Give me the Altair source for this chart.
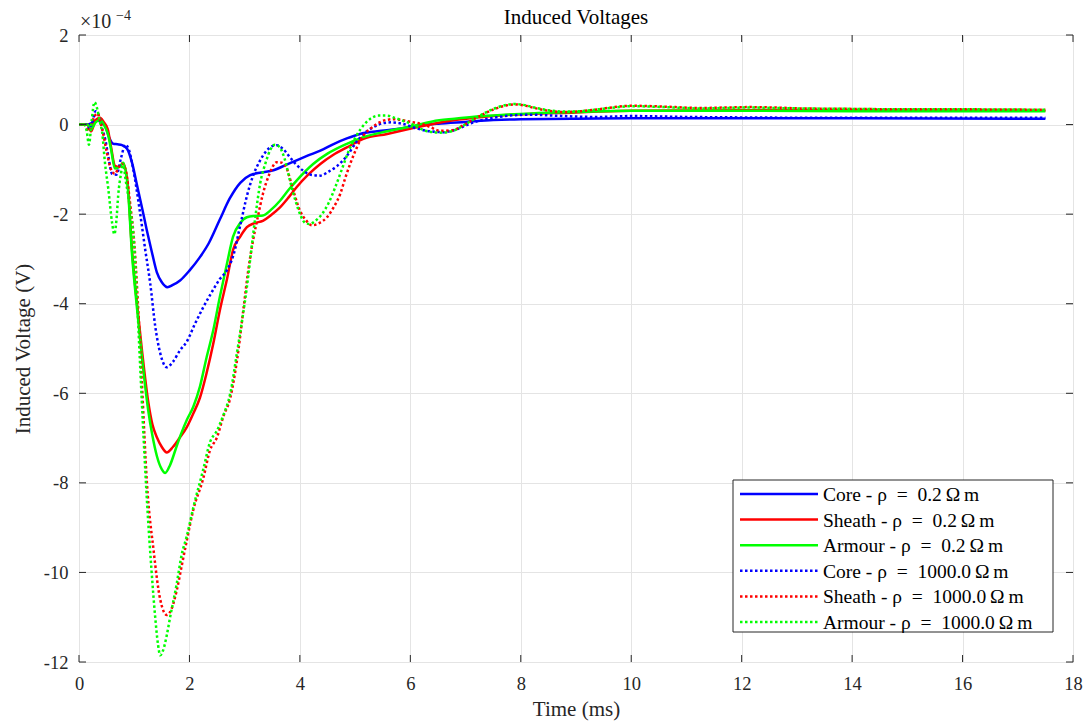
import altair as alt
import pandas as pd

# ---- data (voltages in units of 1e-4 V, time in ms) ----
T_CORE_02 = [0, 0.15, 0.25, 0.32, 0.4, 0.48, 0.55, 0.62, 0.7, 0.78, 0.87, 0.96, 1.05, 1.14, 1.23, 1.32, 1.41,
             1.5, 1.6, 1.7, 1.83, 2.0, 2.19, 2.35, 2.55, 2.73, 2.92, 3.1, 3.3, 3.52, 3.75, 3.94, 4.15, 4.37,
             4.6, 4.85, 5.09, 5.4, 5.76, 6.1, 6.5, 7.0, 7.5, 8.0, 9.0, 10, 12, 14, 17.5]
V_CORE_02 = [0, 0, 0.05, 0.1, 0.05, -0.05, -0.3, -0.43, -0.44, -0.46, -0.54, -0.85, -1.35, -1.85, -2.37, -2.85,
             -3.3, -3.52, -3.63, -3.58, -3.48, -3.26, -2.96, -2.65, -2.12, -1.65, -1.3, -1.13, -1.07, -1.02,
             -0.9, -0.8, -0.69, -0.58, -0.44, -0.31, -0.21, -0.15, -0.1, -0.03, 0.02, 0.06, 0.1, 0.12, 0.13,
             0.14, 0.14, 0.14, 0.13]

T_SHEATH_02 = [0, 0.15, 0.22, 0.3, 0.38, 0.45, 0.52, 0.58, 0.65, 0.72, 0.8, 0.88, 0.96, 1.05, 1.14, 1.25, 1.33,
               1.41, 1.5, 1.59, 1.7, 1.82, 1.95, 2.07, 2.19, 2.31, 2.43, 2.55, 2.68, 2.79, 2.92, 3.04, 3.18,
               3.33, 3.48, 3.64, 3.8, 3.94, 4.15, 4.37, 4.6, 4.85, 5.15, 5.58, 6.05, 6.36, 6.8, 7.2, 7.7, 8.2,
               9.0, 9.4, 10, 12, 14, 17.5]
V_SHEATH_02 = [0, 0, -0.15, 0.1, 0.15, 0.05, -0.1, -0.5, -0.92, -0.95, -0.87, -1.3, -2.8, -4.0, -5.04, -6.16,
               -6.7, -6.98, -7.2, -7.32, -7.2, -7.0, -6.76, -6.45, -6.1, -5.55, -4.9, -4.15, -3.45, -2.8, -2.5,
               -2.29, -2.2, -2.15, -2.02, -1.85, -1.62, -1.4, -1.12, -0.88, -0.68, -0.51, -0.32, -0.21, -0.08,
               0, 0.1, 0.16, 0.21, 0.24, 0.27, 0.29, 0.31, 0.32, 0.32, 0.31]

T_ARMOUR_02 = [0, 0.15, 0.22, 0.3, 0.38, 0.45, 0.52, 0.58, 0.65, 0.72, 0.8, 0.88, 0.96, 1.05, 1.14, 1.25, 1.33,
               1.41, 1.5, 1.56, 1.65, 1.75, 1.85, 1.95, 2.07, 2.19, 2.31, 2.43, 2.55, 2.68, 2.79, 2.92, 3.04,
               3.18, 3.33, 3.48, 3.64, 3.8, 3.94, 4.24, 4.5, 4.85, 5.15, 5.58, 6.05, 6.4, 6.8, 7.2, 7.7, 8.2,
               9.0, 10, 12, 14, 17.5]
V_ARMOUR_02 = [0, 0, -0.1, 0.05, 0.1, 0.0, -0.2, -0.55, -0.98, -0.95, -0.87, -1.35, -2.9, -4.1, -5.2, -6.35,
               -6.95, -7.4, -7.7, -7.78, -7.6, -7.25, -6.9, -6.6, -6.3, -5.85, -5.2, -4.6, -3.85, -3.1, -2.5,
               -2.2, -2.07, -2.04, -2.03, -1.9, -1.7, -1.45, -1.25, -0.88, -0.65, -0.43, -0.28, -0.15, -0.03,
               0.07, 0.13, 0.18, 0.22, 0.25, 0.28, 0.31, 0.31, 0.3, 0.3]

T_CORE_1000 = [0, 0.12, 0.18, 0.24, 0.3, 0.36, 0.42, 0.47, 0.53, 0.6, 0.68, 0.76, 0.84, 0.9, 0.98, 1.1, 1.2,
               1.29, 1.38, 1.47, 1.59, 1.7, 1.83, 1.95, 2.1, 2.25, 2.4, 2.55, 2.68, 2.8, 2.92, 3.05, 3.15, 3.28,
               3.4, 3.5, 3.58, 3.7, 3.82, 3.94, 4.06, 4.2, 4.37, 4.52, 4.67, 4.85, 5.03, 5.18, 5.33, 5.5, 5.65,
               5.85, 6.1, 6.35, 6.6, 6.85, 7.1, 7.3, 7.6, 7.9, 8.2, 8.6, 9.0, 9.4, 10, 11, 12, 14, 17.5]
V_CORE_1000 = [0, 0, -0.1, 0.05, 0.3, 0.2, -0.1, -0.3, -0.7, -1.1, -1.12, -0.75, -0.45, -0.55, -0.98, -1.92,
               -2.8, -3.55, -4.5, -5.1, -5.42, -5.3, -5.04, -4.85, -4.45, -4.08, -3.75, -3.45, -3.25, -2.9,
               -2.25, -1.55, -1.15, -0.8, -0.58, -0.48, -0.46, -0.55, -0.73, -0.9, -1.03, -1.12, -1.14, -1.05,
               -0.93, -0.7, -0.38, -0.18, -0.06, 0.03, 0.05, 0.02, -0.08, -0.15, -0.17, -0.1, 0.03, 0.1, 0.17,
               0.21, 0.22, 0.2, 0.18, 0.17, 0.19, 0.17, 0.16, 0.15, 0.15]

T_SHEATH_1000 = [0, 0.1, 0.18, 0.25, 0.33, 0.42, 0.5, 0.58, 0.65, 0.72, 0.78, 0.85, 0.92, 1.01, 1.08, 1.14,
                 1.23, 1.35, 1.47, 1.59, 1.68, 1.77, 1.86, 1.95, 2.07, 2.25, 2.37, 2.5, 2.61, 2.74, 2.86, 2.98,
                 3.06, 3.15, 3.24, 3.33, 3.45, 3.58, 3.67, 3.76, 3.88, 4.0, 4.1, 4.22, 4.35, 4.49, 4.61, 4.73,
                 4.82, 4.91, 5.0, 5.09, 5.18, 5.27, 5.4, 5.55, 5.7, 5.85, 6.0, 6.18, 6.35, 6.54, 6.75, 6.95,
                 7.15, 7.35, 7.55, 7.75, 7.9, 8.05, 8.25, 8.5, 8.8, 9.1, 9.4, 9.7, 10.0, 10.4, 10.8, 11.25,
                 11.7, 12.15, 12.6, 13.1, 14, 15, 16, 17.5]
V_SHEATH_1000 = [0, 0, -0.15, 0.1, 0.25, -0.1, -0.6, -1.0, -1.1, -0.95, -0.87, -1.05, -1.7, -2.8, -4.3, -5.8,
                 -8.0, -9.5, -10.6, -10.95, -10.8, -10.4, -9.85, -9.3, -8.6, -7.9, -7.28, -6.98, -6.53, -6.1,
                 -5.27, -4.1, -3.3, -2.6, -2.05, -1.55, -1.1, -0.84, -0.85, -0.98, -1.47, -1.92, -2.12, -2.25,
                 -2.2, -2.07, -1.85, -1.55, -1.2, -0.88, -0.6, -0.36, -0.2, -0.1, 0.02, 0.1, 0.12, 0.1, 0.06,
                 0.02, -0.05, -0.14, -0.13, -0.02, 0.12, 0.25, 0.36, 0.43, 0.45, 0.43, 0.37, 0.31, 0.28, 0.3,
                 0.34, 0.39, 0.42, 0.41, 0.39, 0.37, 0.38, 0.39, 0.38, 0.36, 0.35, 0.34, 0.34, 0.33]

T_ARMOUR_1000 = [0, 0.1, 0.14, 0.18, 0.23, 0.28, 0.33, 0.38, 0.42, 0.47, 0.53, 0.6, 0.64, 0.68, 0.71, 0.76,
                 0.8, 0.84, 0.89, 0.94, 0.98, 1.04, 1.1, 1.17, 1.24, 1.31, 1.38, 1.43, 1.47, 1.52, 1.59, 1.65,
                 1.77, 1.86, 1.95, 2.07, 2.25, 2.37, 2.5, 2.61, 2.74, 2.86, 2.95, 3.04, 3.12, 3.2, 3.28, 3.38,
                 3.47, 3.55, 3.63, 3.72, 3.82, 3.92, 4.02, 4.1, 4.18, 4.28, 4.4, 4.52, 4.64, 4.76, 4.88, 5.0,
                 5.1, 5.2, 5.3, 5.42, 5.58, 5.72, 5.88, 6.05, 6.2, 6.35, 6.54, 6.75, 6.95, 7.15, 7.35, 7.55,
                 7.75, 7.9, 8.05, 8.25, 8.5, 8.8, 9.1, 9.4, 9.7, 10.0, 10.4, 10.8, 11.25, 11.7, 12.15, 12.6,
                 13.1, 14, 15, 16, 17.5]
V_ARMOUR_1000 = [0, 0, -0.15, -0.45, 0.1, 0.5, 0.35, 0.05, -0.18, -0.85, -1.43, -2.2, -2.45, -2.1, -1.58,
                 -1.1, -0.85, -1.2, -1.58, -2.0, -2.4, -3.6, -5.2, -7.0, -8.6, -9.9, -11.0, -11.6, -11.85,
                 -11.75, -11.4, -11.0, -10.25, -9.6, -9.2, -8.55, -7.7, -7.1, -6.83, -6.5, -6.0, -5.1, -4.4,
                 -3.63, -2.8, -2.0, -1.32, -0.85, -0.55, -0.45, -0.5, -0.75, -1.25, -1.7, -2.05, -2.2, -2.22,
                 -2.15, -2.0, -1.75, -1.4, -1.0, -0.6, -0.3, -0.1, 0.05, 0.15, 0.2, 0.2, 0.15, 0.08, 0.0, -0.1,
                 -0.16, -0.18, -0.15, -0.03, 0.12, 0.26, 0.37, 0.44, 0.46, 0.44, 0.38, 0.32, 0.29, 0.3, 0.34,
                 0.38, 0.41, 0.4, 0.38, 0.36, 0.37, 0.38, 0.37, 0.36, 0.35, 0.34, 0.34, 0.33]

LABELS = ["Core - ρ\u2002=\u20020.2\u2009Ω\u2009m", "Sheath - ρ\u2002=\u20020.2\u2009Ω\u2009m",
          "Armour - ρ\u2002=\u20020.2\u2009Ω\u2009m", "Core - ρ\u2002=\u20021000.0\u2009Ω\u2009m",
          "Sheath - ρ\u2002=\u20021000.0\u2009Ω\u2009m", "Armour - ρ\u2002=\u20021000.0\u2009Ω\u2009m"]
COLORS = ["#0000ff", "#ff0000", "#00ff00", "#0000ff", "#ff0000", "#00ff00"]
DOTTED = [False, False, False, True, True, True]
SERIES_T = [T_CORE_02, T_SHEATH_02, T_ARMOUR_02, T_CORE_1000, T_SHEATH_1000, T_ARMOUR_1000]
SERIES_V = [V_CORE_02, V_SHEATH_02, V_ARMOUR_02, V_CORE_1000, V_SHEATH_1000, V_ARMOUR_1000]

X_TICKS = list(range(0, 19, 2))
Y_TICKS = list(range(-12, 3, 2))
TITLE = "Induced Voltages"
X_TITLE = "Time (ms)"
Y_TITLE = "Induced Voltage (V)"

FONT = "Liberation Serif"
AX = "#262626"
W, H = 994, 627

xs = alt.Scale(domain=[0, 18], nice=False, zero=False)
ys = alt.Scale(domain=[-12, 2], nice=False, zero=False)

x_axis = alt.Axis(values=X_TICKS, title=X_TITLE, grid=True, gridColor="#e4e4e4", ticks=False,
                  domain=False, labelFont=FONT, labelFontSize=18.5, labelColor=AX, labelPadding=12,
                  titleFont=FONT, titleFontSize=21, titleFontWeight="normal", titleColor=AX,
                  titlePadding=6, labelFlush=False)
y_axis = alt.Axis(values=Y_TICKS, title=Y_TITLE, grid=True, gridColor="#e4e4e4",
                  ticks=False, domain=False, labelFont=FONT, labelFontSize=18.5, labelColor=AX,
                  labelPadding=11, titleFont=FONT, titleFontSize=21, titleFontWeight="normal",
                  titleColor=AX, titlePadding=10, labelFlush=False,
                  labelExpr="replace(datum.label, '−', '-')")

frames = []
for i in range(len(LABELS)):
    frames.append(pd.DataFrame({"t": SERIES_T[i], "v": SERIES_V[i], "k": i}))
df = pd.concat(frames, ignore_index=True)

LW = 2.5
DASH = [2.5, 2.5]

layers = []
for i in range(len(LABELS)):
    kw = dict(color=COLORS[i], strokeWidth=LW, interpolate="monotone")
    if DOTTED[i]:
        kw["strokeDash"] = DASH
    layers.append(
        alt.Chart(df).transform_filter(alt.datum.k == i).mark_line(**kw).encode(
            x=alt.X("t:Q", scale=xs, axis=x_axis),
            y=alt.Y("v:Q", scale=ys, axis=y_axis),
        )
    )

# inward ticks on all four sides
xt = pd.DataFrame({"t": X_TICKS})
yt = pd.DataFrame({"v": Y_TICKS})
TL = 7
layers.append(alt.Chart(xt).mark_rule(color=AX, strokeWidth=1).encode(
    x=alt.X("t:Q", scale=xs, axis=x_axis), y=alt.value(H), y2=alt.value(H - TL)))
layers.append(alt.Chart(xt).mark_rule(color=AX, strokeWidth=1).encode(
    x=alt.X("t:Q", scale=xs, axis=x_axis), y=alt.value(0), y2=alt.value(TL)))
layers.append(alt.Chart(yt).mark_rule(color=AX, strokeWidth=1).encode(
    y=alt.Y("v:Q", scale=ys, axis=y_axis), x=alt.value(0), x2=alt.value(TL)))
layers.append(alt.Chart(yt).mark_rule(color=AX, strokeWidth=1).encode(
    y=alt.Y("v:Q", scale=ys, axis=y_axis), x=alt.value(W), x2=alt.value(W - TL)))

one = pd.DataFrame({"a": [0]})
# title and exponent label
layers.append(alt.Chart(one).mark_text(text=TITLE, font=FONT, fontSize=21, color="black", align="center",
                                       baseline="middle").encode(x=alt.value(W / 2), y=alt.value(-17)))
layers.append(alt.Chart(one).mark_text(text="×10", font=FONT, fontSize=20, color=AX, align="left",
                                       baseline="alphabetic").encode(x=alt.value(1), y=alt.value(-7)))
layers.append(alt.Chart(one).mark_text(text="−4", font=FONT, fontSize=14, color=AX, align="left",
                                       baseline="alphabetic").encode(x=alt.value(37), y=alt.value(-15)))

# legend box
LX0, LY0, LX1, LY1 = 654, 445, 974, 597
layers.append(alt.Chart(one).mark_rect(fill="white", stroke=AX, strokeWidth=1).encode(
    x=alt.value(LX0), x2=alt.value(LX1), y=alt.value(LY0), y2=alt.value(LY1)))
for i, lab in enumerate(LABELS):
    yy = 459 + i * 25.6
    kw = dict(color=COLORS[i], strokeWidth=LW)
    if DOTTED[i]:
        kw["strokeDash"] = DASH
    layers.append(alt.Chart(one).mark_rule(**kw).encode(
        x=alt.value(661), x2=alt.value(739), y=alt.value(yy)))
    layers.append(alt.Chart(one).mark_text(text=lab, font=FONT, fontSize=19.5, color="black",
                                           align="left", baseline="middle").encode(
        x=alt.value(744), y=alt.value(yy + 1)))

chart = alt.layer(*layers).properties(
    width=W, height=H,
    autosize=alt.AutoSizeParams(type="none"),
    padding={"left": 79, "top": 35, "right": 18, "bottom": 62},
).configure_view(stroke=AX, strokeWidth=1).configure(background="white")

chart.save("out.html", embed_options={"renderer": "svg", "actions": False})
